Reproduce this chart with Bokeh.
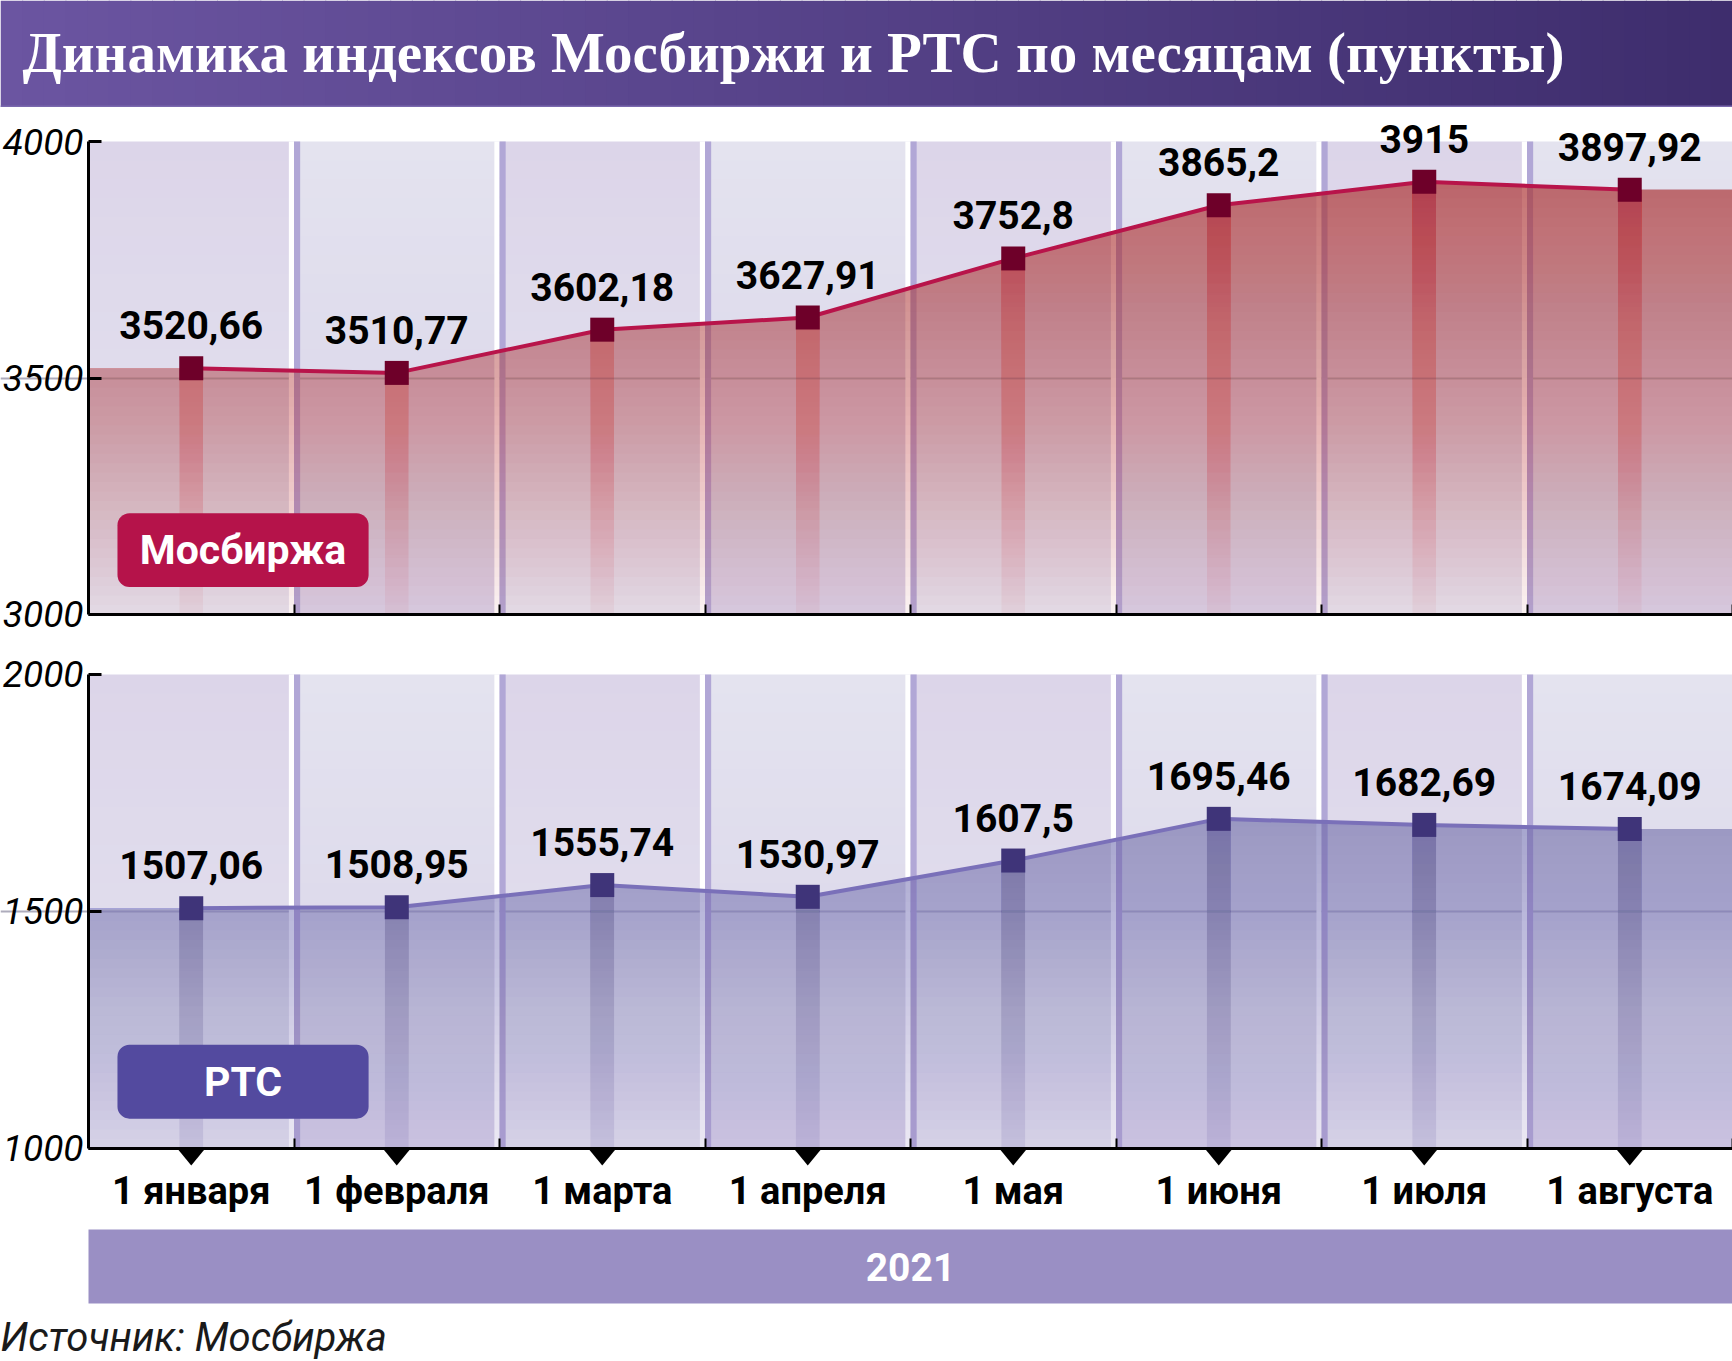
import numpy as np
from bokeh.plotting import figure
from bokeh.models import Range1d, FixedTicker, LinearAxis, Grid
from bokeh.layouts import column
from bokeh.embed import file_html
from bokeh.resources import INLINE
from bokeh.core.properties import value

# ---------------- data ----------------
months = ["1 января", "1 февраля", "1 марта", "1 апреля",
          "1 мая", "1 июня", "1 июля", "1 августа"]
moex = [3520.66, 3510.77, 3602.18, 3627.91, 3752.80, 3865.20, 3915.00, 3897.92]
rts = [1507.06, 1508.95, 1555.74, 1530.97, 1607.50, 1695.46, 1682.69, 1674.09]
moex_ticks = [3000, 3500, 4000]
rts_ticks = [1000, 1500, 2000]
year = "2021"
title_text = "Динамика индексов Мосбиржи и РТС по месяцам (пункты)"
source_text = "Источник: Мосбиржа"
moex_name = "Мосбиржа"
rts_name = "РТС"

# ---------------- style ----------------
SANS = "Roboto"
W = 1732
LB = 88
idx = list(range(len(months)))
COL = (W - LB) / len(months)
XS = -0.5 - LB / COL


def fmt(v):
    return f"{v:.2f}".rstrip("0").rstrip(".").replace(".", ",")


def h2r(h):
    h = h.lstrip("#")
    return [int(h[i:i + 2], 16) for i in (0, 2, 4)]


def mix(c1, c2, t):
    a, b = h2r(c1), h2r(c2)
    return "#%02x%02x%02x" % tuple(int(round(a[i] + (b[i] - a[i]) * t)) for i in range(3))


def layer_alphas(mids, f):
    out, prev = [], 0.0
    for y in mids:
        A = min(max(f(y), 0.0), 0.95)
        a = max(1 - (1 - A) / (1 - prev), 0.0)
        out.append(a)
        prev = 1 - (1 - prev) * (1 - a)
    return out


def clip_above(xs, ys, L):
    px, py = [], []
    for i in range(len(xs)):
        if i > 0 and (ys[i - 1] - L) * (ys[i] - L) < 0:
            t = (L - ys[i - 1]) / (ys[i] - ys[i - 1])
            px.append(xs[i - 1] + t * (xs[i] - xs[i - 1]))
            py.append(L)
        px.append(xs[i])
        py.append(max(ys[i], L))
    return px, py


def make_panel(vals, ticks, height, y_start, y_end, cfg, bottom):
    lo, mid, hi = ticks
    p = figure(width=W, height=height, x_range=Range1d(XS, 7.5), y_range=Range1d(y_start, y_end),
               x_axis_type=None, y_axis_type=None, output_backend="svg", toolbar_location=None,
               min_border=0, outline_line_color=None,
               background_fill_color="white", border_fill_color="white")
    span = hi - lo
    # column backgrounds (vertical gradient)
    NB = 25
    edges = np.linspace(lo, hi, NB + 1)
    for c in idx:
        if c % 2 == 0:
            ctop, cbot = "#dcd5e9", "#e5e4f0"
        else:
            ctop, cbot = "#e4e3ef", "#d8d2e9"
        cols = [mix(cbot, ctop, ((edges[k] + edges[k + 1]) / 2 - lo) / span) for k in range(NB)]
        p.quad(left=c - 0.5, right=c + 0.5, bottom=edges[:-1],
               top=np.minimum(edges[1:] + span * 0.004, hi),
               fill_color=cols, line_color=None, level="image")
    # grid line
    p.add_layout(Grid(dimension=1, ticker=FixedTicker(ticks=[mid]), bounds=(-0.5, 7.5),
                      grid_line_color="#aeacbc", grid_line_width=2))
    # separators
    bnd = [c + 0.5 for c in idx[:-1]]
    p.quad(left=[b - 0.025 for b in bnd], right=bnd, bottom=lo, top=hi,
           fill_color="white", line_color=None)
    p.quad(left=bnd, right=[b + 0.03 for b in bnd], bottom=lo, top=hi,
           fill_color="#b1a7d6", line_color=None)
    # area with vertical alpha gradient
    xs = [-0.5] + idx + [7.5]
    ys = [vals[0]] + list(vals) + [vals[-1]]
    NA = 50
    lv = np.linspace(lo, hi, NA + 1)[:-1]
    al = layer_alphas(lv + span / NA / 2, lambda y: cfg["a_mid"] + cfg["a_slope"] * (y - mid))
    for L, a in zip(lv, al):
        if L >= max(vals):
            break
        px, py = clip_above(xs, ys, L)
        p.varea(x=px, y1=L, y2=py, fill_color=cfg["area"], fill_alpha=a)
    # drop bars with gradient
    NBR = 40
    lvb = np.linspace(lo, hi, NBR + 1)[:-1]
    alb = layer_alphas(lvb + span / NBR / 2, lambda y: cfg["b_mid"] + cfg["b_slope"] * (y - mid))
    for L, a in zip(lvb, alb):
        sel = [i for i in idx if vals[i] > L]
        if not sel:
            break
        p.vbar(x=sel, width=0.115, bottom=L, top=[vals[i] for i in sel],
               fill_color=cfg["bar"], fill_alpha=a, line_color=None)
    # badge
    bx0, bx1 = -0.359, 0.863
    by0, by1 = cfg["badge_y"]
    p.quad(left=bx0, right=bx1, bottom=by0, top=by1, fill_color=cfg["badge"],
           line_color=None, border_radius=12)
    p.text(x=[(bx0 + bx1) / 2], y=[(by0 + by1) / 2], text=[cfg["name"]],
           text_font=value(SANS), text_font_style="bold", text_font_size="41px",
           text_color="white", text_align="center", text_baseline="middle")
    # line + markers
    p.line(x=idx, y=vals, line_color=cfg["line"], line_width=4)
    p.scatter(x=idx, y=vals, marker="square", size=24, fill_color=cfg["marker"], line_color=None)
    p.text(x=idx, y=vals, text=[fmt(v) for v in vals], y_offset=-43,
           text_font=value(SANS), text_font_style="bold", text_font_size="39px",
           text_color="black", text_align="center", text_baseline="middle")
    # y axis (drawn at the left edge of the columns)
    ya = LinearAxis(ticker=FixedTicker(ticks=list(ticks)), bounds=(lo, hi), fixed_location=-0.5,
                    axis_line_width=3, axis_line_color="black",
                    major_tick_in=13, major_tick_out=0, major_tick_line_width=3,
                    major_tick_line_color="black", minor_tick_line_color=None,
                    major_label_text_font=SANS, major_label_text_font_style="italic",
                    major_label_text_font_size="37px", major_label_standoff=5,
                    major_label_text_color="black")
    p.add_layout(ya, "left")
    # x axis
    xa = LinearAxis(ticker=FixedTicker(ticks=idx, minor_ticks=[c + 0.5 for c in idx]),
                    bounds=(-0.5, 7.5), fixed_location=lo,
                    axis_line_width=3, axis_line_color="black",
                    major_tick_line_color=None, major_tick_in=0, major_tick_out=0,
                    minor_tick_in=10, minor_tick_out=0, minor_tick_line_width=2,
                    minor_tick_line_color="black")
    if bottom:
        xa.major_label_overrides = {i: months[i] for i in idx}
        xa.major_label_text_font = SANS
        xa.major_label_text_font_style = "bold"
        xa.major_label_text_font_size = "38px"
        xa.major_label_text_color = "black"
        xa.major_label_standoff = 21
        k = height / (y_end - y_start)
        th = 17 / k
        tw = 0.068
        p.patches(xs=[[i - tw, i + tw, i] for i in idx],
                  ys=[[lo, lo, lo - th] for i in idx],
                  fill_color="black", line_color=None)
    else:
        xa.major_label_overrides = {i: "" for i in idx}
        xa.major_label_text_font_size = "0px"
        xa.major_label_standoff = 0
    p.add_layout(xa, "below")
    return p


# ---------- title ----------
TH = 107
ft = figure(width=W, height=TH, x_range=Range1d(0, W), y_range=Range1d(0, TH),
            x_axis_type=None, y_axis_type=None, output_backend="svg",
            toolbar_location=None, min_border=0, outline_line_color=None)
NT = 80
xe = np.linspace(0, W, NT + 1)
ft.quad(left=xe[:-1], right=xe[1:] + 1, bottom=0, top=TH,
        fill_color=[mix("#6b55a1", "#3e2d6d", k / (NT - 1)) for k in range(NT)], line_color=None)
ft.quad(left=0, right=W, bottom=0, top=2, fill_color="#7a69ae", line_color=None)
ft.text(x=[22], y=[TH - 52], text=[title_text], text_font=value("Liberation Serif"),
        text_font_style="bold", text_font_size="57px", text_color="white",
        text_baseline="middle", text_align="left")

# ---------- panels ----------
top_cfg = dict(area="#bc474a", a_mid=0.42, a_slope=0.0007,
               bar="#c0243f", b_mid=0.20, b_slope=0.0003,
               line="#b8144a", marker="#6e0029", badge="#b5134a",
               badge_y=(3058, 3214), name=moex_name)
bot_cfg = dict(area="#7e6fb4", a_mid=0.45, a_slope=0.0006,
               bar="#5a4a9a", b_mid=0.28, b_slope=0.0003,
               line="#7a70b9", marker="#3f3479", badge="#534a9f",
               badge_y=(1063, 1219), name=rts_name)

p1 = make_panel(moex, moex_ticks, 534, 2942.9, 4071.9, top_cfg, False)
p2 = make_panel(rts, rts_ticks, 579, 848.1, 2069.6, bot_cfg, True)

# ---------- year band ----------
fb = figure(width=W, height=90, x_range=Range1d(XS, 7.5), y_range=Range1d(0, 90),
            x_axis_type=None, y_axis_type=None, output_backend="svg", toolbar_location=None,
            min_border=0, outline_line_color=None)
fb.quad(left=-0.5, right=7.5, bottom=7, top=81, fill_color="#9a8fc4", line_color=None)
fb.text(x=[3.5], y=[44], text=[year], text_font=value(SANS), text_font_style="bold",
        text_font_size="39px", text_color="white", text_align="center", text_baseline="middle")

# ---------- source ----------
fs = figure(width=W, height=51, x_range=Range1d(0, W), y_range=Range1d(0, 51),
            x_axis_type=None, y_axis_type=None, output_backend="svg", toolbar_location=None,
            min_border=0, outline_line_color=None)
fs.text(x=[0], y=[24], text=[source_text], text_font=value(SANS), text_font_style="italic",
        text_font_size="40px", text_color="#1a1a1a", text_align="left", text_baseline="middle")

layout = column(ft, p1, p2, fb, fs, spacing=0)
open("out.html", "w").write(file_html(layout, INLINE))
